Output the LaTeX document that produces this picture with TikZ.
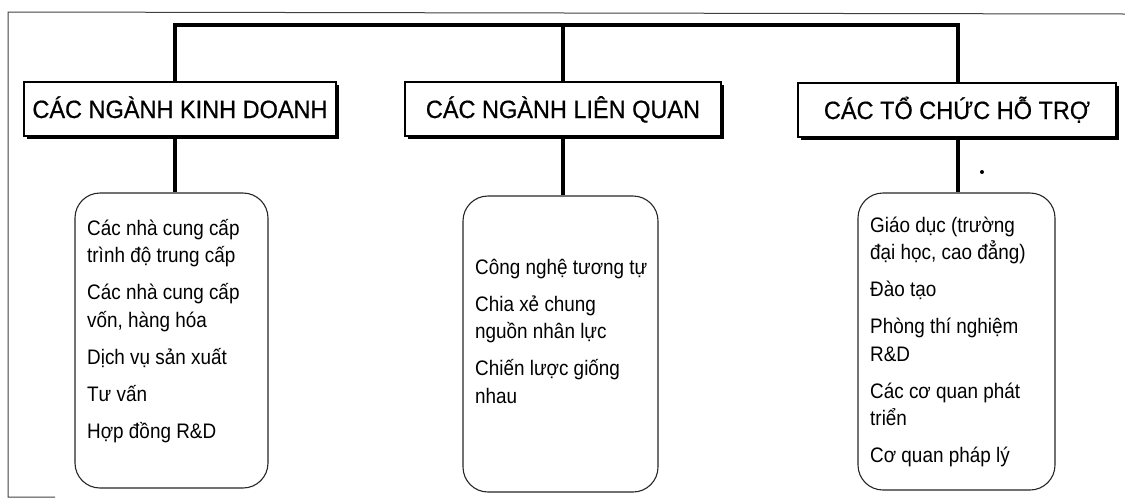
\documentclass[tikz,border=0pt]{standalone}
\usepackage{fontspec}
\setmainfont{Liberation Sans}
\newfontfamily\headfont[FakeStretch=0.94,FakeBold=0.6]{Liberation Sans}
\newfontfamily\bodyfont[FakeStretch=0.9]{Liberation Sans}
\usetikzlibrary{shadows}
\begin{document}
\begin{tikzpicture}[x=1pt,y=-1pt,
  head/.style={draw=black, line width=1.3pt, fill=white, rectangle,
    minimum height=54pt, inner sep=0pt, text height=18pt, text depth=0pt,
    font=\headfont\fontsize{25}{30}\selectfont,
    drop shadow={shadow xshift=2.5pt, shadow yshift=-2.5pt, opacity=1, fill=black}},
  listbox/.style={draw=black!85, line width=1.1pt, rounded corners=25pt, fill=white,
    inner sep=0pt},
  listtext/.style={anchor=west, align=left, inner sep=0pt,
    font=\bodyfont\fontsize{21}{27.5}\selectfont},
  frame/.style={draw=black!75, line width=1pt},
  bar/.style={line width=4pt}
]
\useasboundingbox (0,0) rectangle (1125,499);
% outer frame (open at right and bottom)
\draw[frame] (1125,14) -- (8,12) -- (8,497) -- (55,497);

% header boxes
\node[head, minimum width=312pt] (h1) at (180,109) {CÁC NGÀNH KINH DOANH};
\node[head, minimum width=316pt] (h2) at (563,109) {CÁC NGÀNH LIÊN QUAN};
\node[head, minimum width=318pt] (h3) at (957,110) {CÁC TỔ CHỨC HỖ TRỢ};

% list boxes
\node[listbox, minimum width=193pt, minimum height=295pt] (l1) at (171.5,340.5) {};
\node[listbox, minimum width=195pt, minimum height=296pt] (l2) at (560.5,344) {};
\node[listbox, minimum width=197pt, minimum height=297pt] (l3) at (956.5,341.5) {};

% list texts
\node[listtext] (t1x) at (87,331)
  {Các nhà cung cấp\\ trình độ trung cấp\\[9.5pt]
   Các nhà cung cấp\\ vốn, hàng hóa\\[9.5pt]
   Dịch vụ sản xuất\\[9.5pt]
   Tư vấn\\[9.5pt]
   Hợp đồng R\&D};
\node[listtext] (t2x) at (475,331)
  {Công nghệ tương tự\\[9.5pt]
   Chia xẻ chung\\ nguồn nhân lực\\[9.5pt]
   Chiến lược giống\\ nhau};
\node[listtext] (t3x) at (870,342)
  {Giáo dục (trường\\ đại học, cao đẳng)\\[9.5pt]
   Đào tạo\\[9.5pt]
   Phòng thí nghiệm\\ R\&D\\[9.5pt]
   Các cơ quan phát\\ triển\\[9.5pt]
   Cơ quan pháp lý};

% connector coordinates
\coordinate (c1) at (175,25);
\coordinate (c2) at (563,25);
\coordinate (c3) at (958,25);

\draw[bar] (c1 |- h1.north) -- (c1) -- (c3) -- (c3 |- h3.north);
\draw[bar] (c2) -- (h2.north -| c2);
\draw[bar] (h1.south -| c1) -- (l1.north -| c1);
\draw[bar] (h2.south -| c2) -- (l2.north -| c2);
\draw[bar] (h3.south -| c3) -- (l3.north -| c3);

% stray dot
\fill (982,172) circle (2pt);
\end{tikzpicture}
\end{document}
